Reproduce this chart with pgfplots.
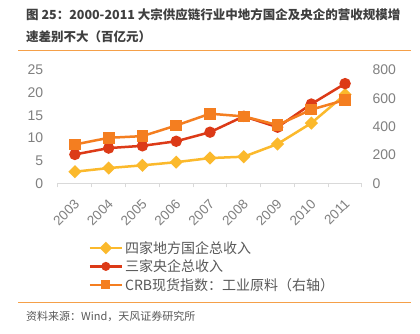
\documentclass[border=0pt]{standalone}
\usepackage{pgfplots}
\pgfplotsset{compat=1.18}
\usepackage{fontspec}
\setmainfont{Liberation Sans}
\newfontfamily\cjk{Noto Sans CJK SC}
\definecolor{cyellow}{HTML}{FBB92C}
\definecolor{cred}{HTML}{DC3A17}
\definecolor{corange}{HTML}{F47E20}
\definecolor{tickgray}{HTML}{808080}
\definecolor{linegray}{HTML}{D9D9D9}
\definecolor{titlegray}{HTML}{3F3F3F}
\definecolor{sepcolor}{HTML}{F5A049}
\definecolor{textgray}{HTML}{595959}
\begin{document}
\begin{tikzpicture}
\useasboundingbox (0,0) rectangle (420pt,334pt);
\fill[white] (0,0) rectangle (420pt,334pt);
\node[anchor=west, text=titlegray, font=\cjk\bfseries\fontsize{12.5}{15}\selectfont, inner sep=0pt] at (26pt,319pt) {图 25：2000-2011 大宗供应链行业中地方国企及央企的营收规模增};
\node[anchor=west, text=titlegray, font=\cjk\bfseries\fontsize{12.5}{15}\selectfont, inner sep=0pt] at (26pt,297pt) {速差别不大（百亿元）};
\draw[sepcolor, line width=1pt] (18pt,283pt) -- (411pt,283pt);
\draw[sepcolor, line width=1pt] (18pt,31pt) -- (411pt,31pt);
\node[anchor=west, text=textgray, font=\cjk\fontsize{11}{12}\selectfont, inner sep=0pt] at (26pt,18pt) {资料来源：Wind，天风证券研究所};

\begin{axis}[
  at={(58pt,150.5pt)}, anchor=south west,
  scale only axis, width=304pt, height=113.5pt,
  xmin=-0.5, xmax=8.5, ymin=0, ymax=25,
  xtick={0,...,8}, xticklabels={2003,2004,2005,2006,2007,2008,2009,2010,2011},
  minor xtick={-0.5,0.5,...,8.5},
  ytick={0,5,...,25},
  axis x line*=bottom, axis y line*=left,
  y axis line style={draw=none},
  x axis line style={draw=linegray, line width=1pt},
  major x tick style={draw=none},
  ytick style={draw=none},
  minor x tick style={draw=linegray, line width=1pt},
  minor tick length=4pt, tick align=outside,
  /pgf/number format/assume math mode=true,
  yticklabel style={font=\fontsize{14}{14}\selectfont, text=tickgray, xshift=-7pt},
  xticklabel style={font=\fontsize{13.5}{14}\selectfont, text=tickgray, rotate=45, anchor=north east, xshift=-5pt, yshift=-3pt},
  legend style={at={(axis description cs:0.1,-0.49)}, anchor=north west, draw=none, fill=none,
    font=\cjk\fontsize{14}{16}\selectfont, text=textgray, row sep=1pt, inner sep=0pt},
  legend cell align=left,
  legend image code/.code={\draw[mark repeat=2,mark phase=2,#1, mark size=3.2pt] plot coordinates {(0pt,0pt)(16pt,0pt)(32pt,0pt)};},
  clip=false,
]
\addplot[cyellow, line width=2.5pt, mark=square*, mark size=3.4pt, mark options={rotate=45, solid}] coordinates {
  (0,2.6) (1,3.4) (2,4.0) (3,4.7) (4,5.6) (5,5.9) (6,8.7) (7,13.3) (8,19.6)};
\addlegendentry{四家地方国企总收入}
\addplot[cred, line width=2.5pt, mark=*, mark size=4.4pt] coordinates {
  (0,6.4) (1,7.8) (2,8.3) (3,9.3) (4,11.3) (5,14.8) (6,12.4) (7,17.5) (8,22.0)};
\addlegendentry{三家央企总收入}
\addlegendimage{corange, line width=2.5pt, mark=square*}
\addlegendentry{CRB现货指数：工业原料（右轴）}
\end{axis}

\begin{axis}[
  at={(58pt,150.5pt)}, anchor=south west,
  scale only axis, width=304pt, height=113.5pt,
  xmin=-0.5, xmax=8.5, ymin=0, ymax=800,
  axis x line=none, axis y line*=right,
  y axis line style={draw=none},
  ytick={0,200,...,800}, ytick style={draw=none},
  /pgf/number format/assume math mode=true,
  yticklabel style={font=\fontsize{14}{14}\selectfont, text=tickgray, xshift=7pt},
  clip=false,
]
\addplot[corange, line width=2.5pt, mark=square*, mark size=4.6pt] coordinates {
  (0,275) (1,322) (2,334) (3,409) (4,492) (5,473) (6,412) (7,521) (8,589)};
\end{axis}
\end{tikzpicture}
\end{document}
